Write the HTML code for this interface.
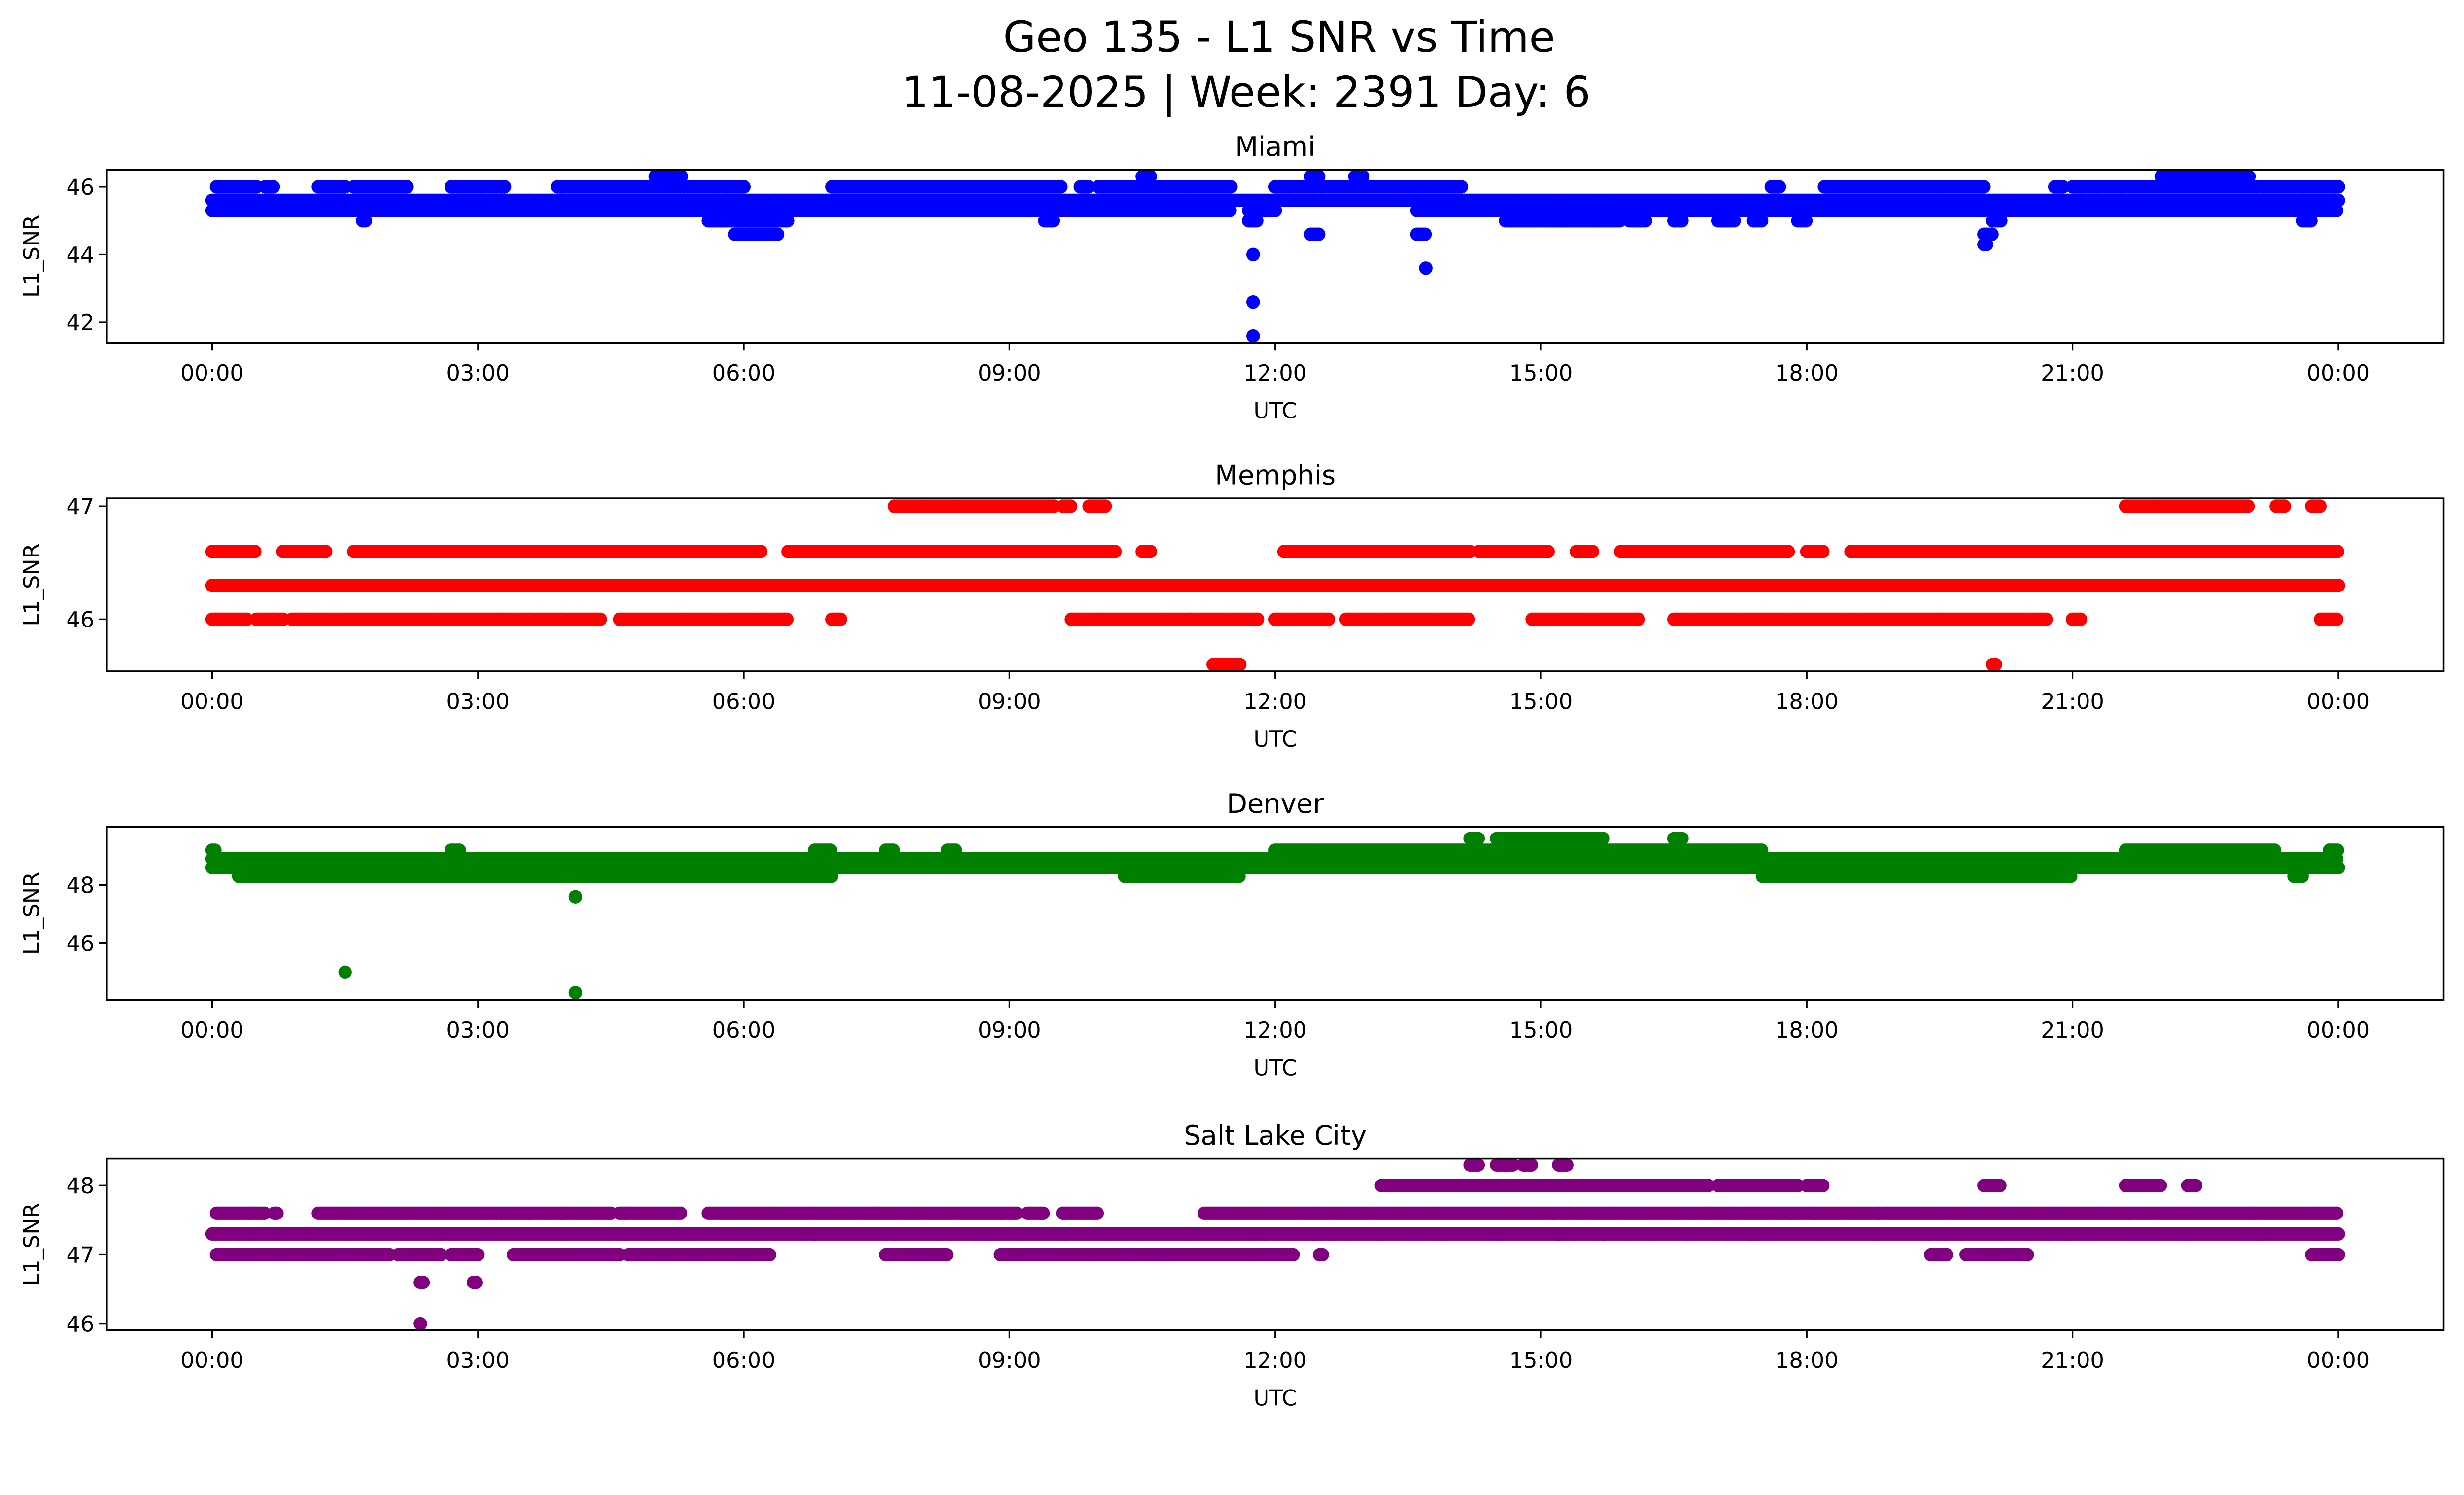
<!DOCTYPE html>
<html><head><meta charset="utf-8"><style>
html,body{margin:0;padding:0;background:#fff;width:100%;height:100%;overflow:hidden;}
svg{display:block;position:fixed;left:0;top:0;width:100vw;height:calc(100vw * 0.580478);}
text{font-family:"DejaVu Sans","Liberation Sans",sans-serif;fill:#000;}
</style></head><body>
<svg id="fig" xmlns="http://www.w3.org/2000/svg" viewBox="0 0 1568 910" preserveAspectRatio="none">
<rect x="0" y="0" width="1568" height="910" fill="#fff"/>
<text x="814" y="33" font-size="27" text-anchor="middle">Geo 135 - L1 SNR vs Time</text>
<text x="793" y="68" font-size="27" text-anchor="middle">11-08-2025 | Week: 2391 Day: 6</text>
<g id="plots"></g>
</svg>
<script>
// ---- data: runs [startHour, endHour] per SNR level ----
const tickLabels = ["00:00","03:00","06:00","09:00","12:00","15:00","18:00","21:00","00:00"];
const tickHours = [0,3,6,9,12,15,18,21,24];

const miamiLevels = [45.6, 45.3, 46.0, 46.3, 45.0, 44.6, 44.3];
const miamiRuns = [
 [[0,24]],
 [[0,5.6],[5.6,6.6],[6.6,11.5],[11.7,12],[13.6,24]],
 [[0.05,0.5],[0.6,0.7],[1.2,1.5],[1.6,2.2],[2.7,3.3],[3.9,6.0],[7.0,9.6],[9.8,9.9],[10.0,11.5],[12.0,14.1],[17.6,17.7],[18.2,20.0],[20.8,20.9],[21.0,24]],
 [[5.0,5.3],[10.5,10.6],[12.4,12.5],[12.9,13.0],[22.0,23.0]],
 [[1.7,1.75],[5.6,6.5],[9.4,9.5],[11.7,11.8],[14.6,15.9],[16.0,16.2],[16.5,16.6],[17.0,17.2],[17.4,17.5],[17.9,18.0],[20.1,20.2],[23.6,23.7]],
 [[5.9,6.4],[12.4,12.5],[13.6,13.7],[20.0,20.1]],
 [[20.0,20.05]]
];
const miamiSingles = [[11.75,44.0],[11.75,42.6],[11.75,41.6],[13.7,43.6]];

const memphisLevels = [46.3, 46.6, 46.0, 47.0, 45.6];
const memphisRuns = [
 [[0,24]],
 [[0,0.5],[0.8,1.3],[1.6,6.2],[6.5,10.2],[10.5,10.6],[12.1,14.2],[14.3,15.1],[15.4,15.6],[15.9,17.8],[18.0,18.2],[18.5,24]],
 [[0,0.4],[0.5,0.8],[0.9,4.4],[4.6,6.5],[7.0,7.1],[9.7,11.8],[12.0,12.6],[12.8,14.2],[14.9,16.1],[16.5,20.7],[21.0,21.1],[23.8,24]],
 [[7.7,9.5],[9.6,9.7],[9.9,10.1],[21.6,23.0],[23.3,23.4],[23.7,23.8]],
 [[11.3,11.6],[20.1,20.15]]
];
const memphisSingles = [];

const denverLevels = [48.3, 48.6, 48.9, 49.2, 49.6];
const denverRuns = [
 [[0.3,7.0],[10.3,11.6],[17.5,21.0],[23.5,23.6]],
 [[0,24]],
 [[0,17.5],[17.5,24]],
 [[0,0.05],[2.7,2.8],[6.8,7.0],[7.6,7.7],[8.3,8.4],[12.0,17.5],[21.6,23.3],[23.9,24]],
 [[14.2,14.3],[14.5,15.7],[16.5,16.6]]
];
const denverSingles = [[1.5,45.0],[4.1,47.6],[4.1,44.3]];

const slcLevels = [47.3, 47.6, 47.0, 48.0, 48.3, 46.6];
const slcRuns = [
 [[0,24]],
 [[0.05,0.6],[0.7,0.75],[1.2,4.5],[4.6,5.3],[5.6,9.1],[9.2,9.4],[9.6,10.0],[11.2,24]],
 [[0.05,2.0],[2.1,2.6],[2.7,3.0],[3.4,4.6],[4.7,6.3],[7.6,8.3],[8.9,12.2],[12.5,12.55],[19.4,19.6],[19.8,20.5],[23.7,24]],
 [[13.2,16.9],[17.0,17.9],[18.0,18.2],[20.0,20.2],[21.6,22.0],[22.3,22.4]],
 [[14.2,14.3],[14.5,14.7],[14.8,14.9],[15.2,15.3]],
 [[2.35,2.4],[2.95,3.0]]
];
const slcSingles = [[2.35,46.0],[15.2,47.3],[15.7,47.3]];

const panels = [
 {name:"Miami", color:"#0000ff", top:108, bottom:218, ymin:41.4, ymax:46.5, ticks:[42,44,46], levels:miamiLevels, runs:miamiRuns, singles:miamiSingles},
 {name:"Memphis", color:"#ff0000", top:317, bottom:427, ymin:45.54, ymax:47.07, ticks:[46,47], levels:memphisLevels, runs:memphisRuns, singles:memphisSingles},
 {name:"Denver", color:"#008000", top:526, bottom:636, ymin:44.05, ymax:50.0, ticks:[46,48], levels:denverLevels, runs:denverRuns, singles:denverSingles},
 {name:"Salt Lake City", color:"#800080", top:737, bottom:846, ymin:45.91, ymax:48.39, ticks:[46,47,48], levels:slcLevels, runs:slcRuns, singles:slcSingles}
];

const NS="http://www.w3.org/2000/svg";
const L=68, R=1555, X0=135, X1=1488;
const xs = h => X0 + (X1-X0)*h/24;
const root = document.getElementById('plots');
function mk(tag, attrs, parent){const e=document.createElementNS(NS,tag);for(const k in attrs)e.setAttribute(k,attrs[k]);parent.appendChild(e);return e;}

panels.forEach((p,pi)=>{
  const ys = v => p.bottom - (v-p.ymin)/(p.ymax-p.ymin)*(p.bottom-p.top);
  const g = mk('g',{},root);
  
  
  const clip = mk('clipPath',{id:'c'+pi},g);
  mk('rect',{x:L,y:p.top,width:R-L,height:p.bottom-p.top},clip);
  const pts = mk('g',{fill:p.color,'clip-path':'url(#c'+pi+')'},g);
  
  
  p.levels.forEach((lv,li)=>{
    p.runs[li].forEach(r=>{
      for(let h=r[0]; h<=r[1]+1e-9; h+=0.03){
        const c = mk('circle',{cx:xs(h).toFixed(1),cy:ys(lv).toFixed(1),r:4.3},pts);
        
        
      }
    });
  });
  p.singles.forEach(s=>{
    const c = mk('circle',{cx:xs(s[0]).toFixed(1),cy:ys(s[1]).toFixed(1),r:4.3},pts);
    
    
  });
  const fr = mk('rect',{x:L,y:p.top,width:R-L,height:p.bottom-p.top,fill:'none',stroke:'#000','stroke-width':1.1},g);
  
  
  tickHours.forEach((h,i)=>{
    mk('line',{x1:xs(h),x2:xs(h),y1:p.bottom,y2:p.bottom+5,stroke:'#000','stroke-width':1},g);
    const t = mk('text',{x:xs(h),y:p.bottom+24,'font-size':14,'text-anchor':'middle'},g);
    t.textContent = tickLabels[i];
    
    
  });
  p.ticks.forEach(v=>{
    mk('line',{x1:L-5,x2:L,y1:ys(v),y2:ys(v),stroke:'#000','stroke-width':1},g);
    const t = mk('text',{x:L-8,y:ys(v)+5,'font-size':14,'text-anchor':'end'},g);
    t.textContent = String(v);
    
    
  });
  const ti = mk('text',{x:(L+R)/2,y:p.top-9,'font-size':17,'text-anchor':'middle'},g);
  ti.textContent = p.name;
  
  
  const xl = mk('text',{x:(L+R)/2,y:p.bottom+48,'font-size':14,'text-anchor':'middle'},g);
  xl.textContent = 'UTC';
  
  
  const cy=(p.top+p.bottom)/2;
  const yl = mk('text',{x:25,y:cy,'font-size':14,'text-anchor':'middle',transform:'rotate(-90 25 '+cy+')'},g);
  yl.textContent = 'L1_SNR';
  
  
});
</script>
</body></html>
